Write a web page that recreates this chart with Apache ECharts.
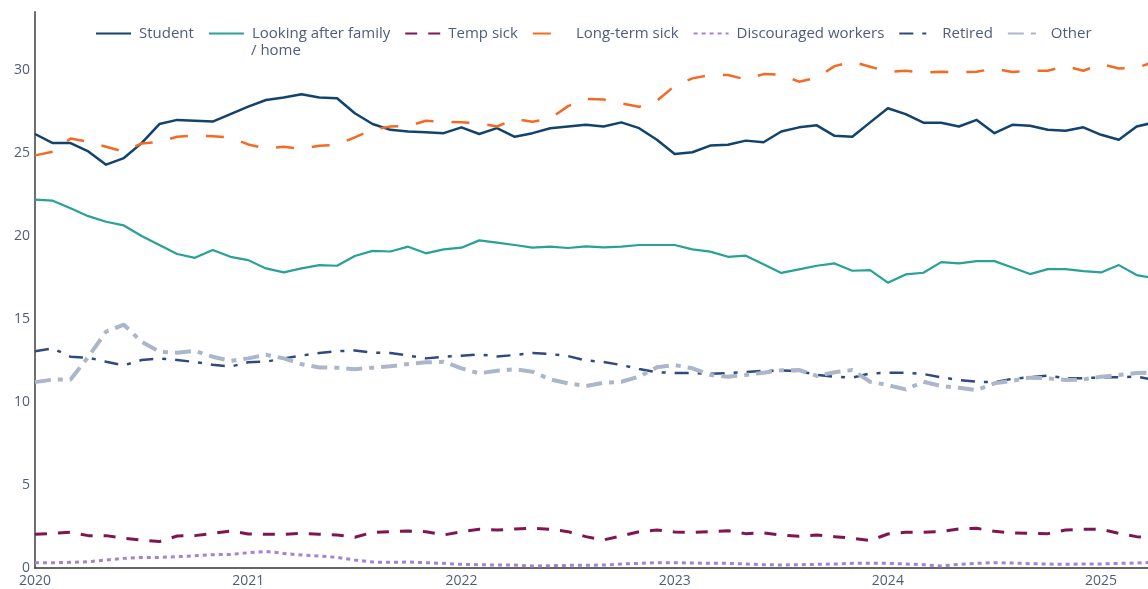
<!DOCTYPE html>
<html>
<head>
<meta charset="utf-8">
<script src="https://cdn.jsdelivr.net/npm/echarts@6/dist/echarts.min.js"></script>
<style>
html,body{margin:0;padding:0;background:#fff;}
#chart{width:1148px;height:589px;}
</style>
</head>
<body>
<div id="chart"></div>
<script>
// Monthly categories, Jan 2020 – Apr 2025
const months = [];
for (let y = 2020; y <= 2025; y++) {
  for (let m = 1; m <= 12; m++) {
    if (y === 2025 && m > 4) break;
    months.push(y + '-' + String(m).padStart(2, '0'));
  }
}

const seriesNames = ['Student', 'Looking after family / home', 'Temp sick', 'Long-term sick', 'Discouraged workers', 'Retired', 'Other'];
const yTicks = [0, 5, 10, 15, 20, 25, 30];
const xTicks = [2020, 2021, 2022, 2023, 2024, 2025];

const student = [26.15,25.6,25.6,25.1,24.3,24.7,25.6,26.75,27.0,26.95,26.9,27.35,
27.8,28.2,28.35,28.55,28.35,28.3,27.4,26.75,26.4,26.3,26.25,26.2,
26.55,26.15,26.5,25.98,26.2,26.5,26.6,26.7,26.6,26.85,26.5,25.8,
24.95,25.05,25.45,25.5,25.75,25.65,26.3,26.55,26.67,26.04,25.98,26.85,
27.7,27.35,26.83,26.83,26.6,27.0,26.2,26.7,26.65,26.4,26.35,26.55,
26.1,25.8,26.6,26.85];

const family = [22.2,22.13,21.67,21.2,20.86,20.64,20.0,19.46,18.92,18.69,19.16,18.75,
18.55,18.05,17.81,18.05,18.25,18.21,18.8,19.11,19.07,19.36,18.96,19.2,
19.3,19.74,19.6,19.46,19.3,19.36,19.28,19.38,19.32,19.36,19.46,19.46,
19.46,19.2,19.06,18.75,18.82,18.3,17.78,17.99,18.21,18.35,17.91,17.95,
17.19,17.69,17.79,18.43,18.35,18.49,18.49,18.11,17.71,18.01,18.01,17.89,
17.81,18.25,17.65,17.45];

const tempSick = [2.03,2.09,2.15,1.95,1.95,1.79,1.69,1.59,1.93,1.95,2.09,2.23,
2.05,2.03,2.03,2.09,2.03,1.99,1.85,2.15,2.19,2.23,2.19,1.99,
2.19,2.33,2.29,2.35,2.39,2.33,2.19,1.89,1.69,1.93,2.19,2.29,
2.17,2.15,2.19,2.25,2.07,2.11,1.98,1.91,1.99,1.89,1.79,1.65,
2.05,2.15,2.15,2.19,2.35,2.39,2.21,2.11,2.09,2.07,2.29,2.33,
2.33,2.09,1.89,1.79];

const longSick = [24.86,25.08,25.88,25.68,25.38,25.08,25.58,25.68,25.98,26.06,26.02,25.94,
25.52,25.28,25.38,25.26,25.44,25.5,25.95,26.4,26.6,26.63,26.95,26.89,
26.85,26.79,26.6,27.05,26.89,27.09,27.83,28.27,28.23,27.99,27.79,28.15,
29.05,29.5,29.7,29.7,29.44,29.76,29.72,29.3,29.54,30.24,30.5,30.2,
29.9,29.96,29.84,29.9,29.88,29.9,30.1,29.88,29.96,29.96,30.24,29.96,
30.36,30.1,30.14,30.5];

const discouraged = [0.32,0.32,0.34,0.38,0.48,0.58,0.64,0.64,0.68,0.74,0.8,0.82,
0.92,1.0,0.88,0.78,0.72,0.64,0.48,0.36,0.34,0.36,0.32,0.28,
0.22,0.2,0.18,0.18,0.12,0.14,0.16,0.16,0.18,0.24,0.28,0.32,
0.32,0.3,0.28,0.28,0.24,0.2,0.18,0.2,0.22,0.24,0.28,0.28,
0.28,0.24,0.2,0.12,0.22,0.28,0.32,0.3,0.26,0.24,0.22,0.24,
0.24,0.28,0.3,0.34];

const retired = [13.06,13.23,12.73,12.67,12.43,12.21,12.53,12.63,12.53,12.41,12.25,12.13,
12.4,12.43,12.63,12.8,12.95,13.06,13.11,12.98,12.95,12.8,12.63,12.73,
12.79,12.87,12.75,12.83,12.95,12.89,12.77,12.51,12.41,12.23,11.99,11.8,
11.75,11.75,11.7,11.75,11.8,11.88,11.9,11.87,11.63,11.53,11.47,11.72,
11.77,11.77,11.69,11.49,11.33,11.22,11.2,11.4,11.49,11.59,11.43,11.43,
11.49,11.49,11.53,11.33];

const other = [11.2,11.35,11.36,12.73,14.24,14.66,13.63,13.03,12.97,13.08,12.73,12.48,
12.63,12.85,12.63,12.28,12.08,12.07,11.98,12.07,12.15,12.29,12.39,12.43,
12.03,11.73,11.89,11.97,11.83,11.36,11.13,10.96,11.16,11.22,11.53,12.09,
12.23,12.03,11.63,11.53,11.63,11.77,11.91,11.93,11.57,11.79,11.93,11.22,
11.02,10.76,11.22,10.96,10.86,10.72,11.13,11.28,11.47,11.43,11.33,11.36,
11.53,11.63,11.75,11.77];

const seriesValues = [student, family, tempSick, longSick, discouraged, retired, other];
const colors = ['#12436D', '#28A197', '#801650', '#F46A25', '#A285D1', '#2E4A80', '#ABB6CA'];
const widths = [2.5, 2.2, 3, 2.5, 3, 2.5, 4];
const dashes = ['solid', 'solid', [12, 11], [18, 18], [4, 4], [14, 9, 4, 9], [16, 7, 5, 7]];

function toX(s) {
  const [y, m] = s.split('-').map(Number);
  return y + (m - 1) / 12;
}

const textColor = '#4F5D7A';
const font = 'Open Sans';

const chart = echarts.init(document.getElementById('chart'), null, { renderer: 'canvas' });

const series = seriesNames.map((name, i) => ({
  name: name,
  type: 'line',
  data: months.map((mo, k) => [toX(mo), seriesValues[i][k]]),
  showSymbol: false,
  symbol: 'none',
  clip: true,
  lineStyle: { color: colors[i], width: widths[i], type: dashes[i], cap: 'butt', join: 'round' },
  itemStyle: { color: colors[i] },
  emphasis: { disabled: true },
  animation: false
}));

chart.setOption({
  animation: false,
  backgroundColor: '#ffffff',
  color: colors,
  grid: { left: 35, right: 0, top: 12, bottom: 21, containLabel: false },
  legend: {
    left: 90,
    top: 21,
    itemWidth: 35,
    itemHeight: 14,
    itemGap: 14,
    itemStyle: { opacity: 0 },
    textStyle: { color: textColor, fontSize: 15, fontFamily: font, padding: [0, 0, 0, 3] },
    data: seriesNames.map(n => ({ name: n })),
    formatter: n => n === 'Looking after family / home' ? 'Looking after family' : n,
    selectedMode: false
  },
  graphic: [{
    type: 'text',
    left: 251,
    top: 43,
    style: { text: '/ home', fill: textColor, fontSize: 15, fontFamily: font }
  }],
  xAxis: {
    type: 'value',
    min: xTicks[0],
    max: 2025.22,
    interval: 1,
    axisLine: { show: true, onZero: false, lineStyle: { color: '#333333', width: 1.5 } },
    axisTick: { show: false },
    splitLine: { show: false },
    axisLabel: {
      color: textColor, fontSize: 14, fontFamily: font, margin: 6,
      showMaxLabel: false,
      formatter: v => xTicks.includes(v) ? String(v) : ''
    }
  },
  yAxis: {
    type: 'value',
    min: 0,
    max: 33.5,
    interval: 5,
    axisLine: { show: true, lineStyle: { color: '#6e6e6e', width: 2 } },
    axisTick: { show: false },
    splitLine: { show: false },
    axisLabel: {
      color: textColor, fontSize: 14, fontFamily: font, margin: 5,
      showMaxLabel: false,
      formatter: v => yTicks.includes(v) ? String(v) : ''
    }
  },
  series: series
});
</script>
</body>
</html>
